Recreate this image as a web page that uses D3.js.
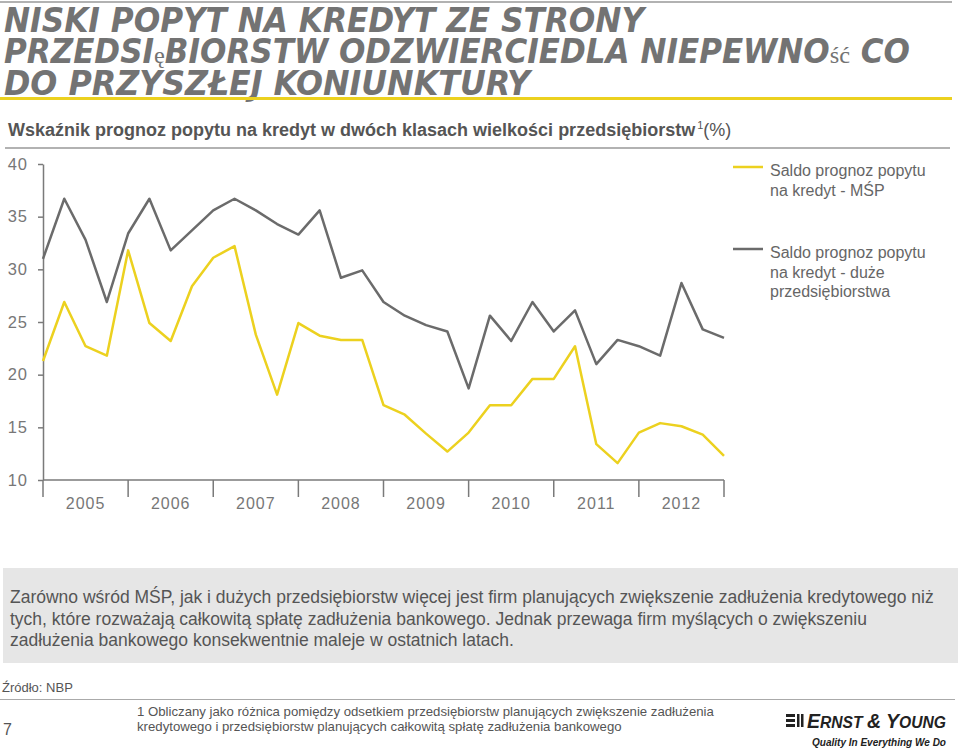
<!DOCTYPE html>
<html>
<head>
<meta charset="utf-8">
<script src="https://cdn.jsdelivr.net/npm/d3@7"></script>
<style>
  body { margin: 0; background: #fff; }
  svg { display: block; font-family: "Liberation Sans", Arial, sans-serif; }
</style>
</head>
<body>
<div id="chart"></div>
<script>
// quarterly readings, 2005 Q1 .. 2013 Q1
const years = ["2005", "2006", "2007", "2008", "2009", "2010", "2011", "2012"];
const msp = [21.3, 26.9, 22.7, 21.8, 31.8, 24.9, 23.2, 28.4, 31.1, 32.2, 23.8, 18.1,
  24.9, 23.7, 23.3, 23.3, 17.1, 16.2, 14.4, 12.7, 14.5, 17.1, 17.1, 19.6,
  19.6, 22.7, 13.4, 11.6, 14.5, 15.4, 15.1, 14.3, 12.3];
const duze = [31.0, 36.7, 32.8, 26.9, 33.4, 36.7, 31.8, 33.7, 35.6, 36.7, 35.6, 34.3,
  33.3, 35.6, 29.2, 29.9, 26.9, 25.6, 24.7, 24.1, 18.7, 25.6, 23.2, 26.9,
  24.1, 26.1, 21.0, 23.3, 22.7, 21.8, 28.7, 24.3, 23.5];
const yTicks = [10, 15, 20, 25, 30, 35, 40];
const legendItems = [
  { lines: ["Saldo prognoz popytu", "na kredyt - MŚP"], color: "#ecd11f" },
  { lines: ["Saldo prognoz popytu", "na kredyt - duże", "przedsiębiorstwa"], color: "#6b6b6b" }
];
const bodyLines = [
  "Zarówno wśród MŚP, jak i dużych przedsiębiorstw więcej jest firm planujących zwiększenie zadłużenia kredytowego niż",
  "tych, które rozważają całkowitą spłatę zadłużenia bankowego. Jednak przewaga firm myślących o zwiększeniu",
  "zadłużenia bankowego konsekwentnie maleje w ostatnich latach."
];
const footLines = [
  "1 Obliczany jako różnica pomiędzy odsetkiem przedsiębiorstw planujących zwiększenie zadłużenia",
  "kredytowego i przedsiębiorstw planujących całkowitą spłatę zadłużenia bankowego"
];

const W = 960, H = 755;
const yellow = "#ecd11f", dark = "#6b6b6b", axisCol = "#7a7a7a";

const svg = d3.select("#chart").append("svg")
  .attr("width", W)
  .attr("height", H);

// header
svg.append("line").attr("x1", 0).attr("x2", 952).attr("y1", 2).attr("y2", 2)
  .attr("stroke", "#999").attr("stroke-width", 1.5);

const titleFont = "'Liberation Sans Narrow', 'DejaVu Sans Condensed', sans-serif";
const title = svg.append("g")
  .attr("fill", "#737373")
  .attr("font-family", titleFont)
  .attr("font-weight", "bold")
  .attr("font-style", "italic")
  .attr("font-size", 34);

title.append("text").attr("x", 4).attr("y", 32)
  .attr("textLength", 640).attr("lengthAdjust", "spacingAndGlyphs")
  .text("NISKI POPYT NA KREDYT ZE STRONY");

const t2 = title.append("text").attr("x", 4).attr("y", 63)
  .attr("textLength", 906).attr("lengthAdjust", "spacingAndGlyphs");
t2.append("tspan").text("PRZEDSI");
t2.append("tspan").attr("font-family", "'Liberation Serif', serif").attr("font-style", "normal")
  .attr("font-weight", "normal").attr("font-size", 24).text("ę");
t2.append("tspan").text("BIORSTW ODZWIERCIEDLA NIEPEWNO");
t2.append("tspan").attr("font-family", "'Liberation Serif', serif").attr("font-style", "normal")
  .attr("font-weight", "normal").attr("font-size", 24).text("ść");
t2.append("tspan").text(" CO");

title.append("text").attr("x", 4).attr("y", 95)
  .attr("textLength", 526).attr("lengthAdjust", "spacingAndGlyphs")
  .text("DO PRZYSZŁEJ KONIUNKTURY");

svg.append("line").attr("x1", 0).attr("x2", 952).attr("y1", 98.5).attr("y2", 98.5)
  .attr("stroke", yellow).attr("stroke-width", 3);

const sub = svg.append("text").attr("x", 8).attr("y", 136)
  .attr("fill", "#555").attr("font-size", 18);
sub.append("tspan").attr("font-weight", "bold")
  .text("Wskaźnik prognoz popytu na kredyt w dwóch klasach wielkości przedsiębiorstw");
sub.append("tspan").attr("font-size", 11).attr("dy", -7).attr("dx", 2).text("1");
sub.append("tspan").attr("dy", 7).text("(%)");

svg.append("line").attr("x1", 5).attr("x2", 950).attr("y1", 148).attr("y2", 148)
  .attr("stroke", "#999").attr("stroke-width", 1.5);

// chart
const x = d3.scaleLinear().domain([0, msp.length - 1]).range([43, 724]);
const y = d3.scaleLinear().domain([10, 40]).range([480, 164]);

const yAxis = svg.append("g")
  .attr("transform", "translate(43,0)")
  .call(d3.axisLeft(y).tickValues(yTicks).tickSize(5).tickSizeOuter(0).tickPadding(10));
yAxis.select(".domain").attr("stroke", axisCol).attr("stroke-width", 1.5);
yAxis.selectAll(".tick line").attr("stroke", axisCol).attr("stroke-width", 1.5);
yAxis.selectAll(".tick text")
  .attr("fill", "#777").attr("font-size", 16.5).attr("letter-spacing", 1)
  .attr("font-family", "'Liberation Sans', Arial, sans-serif");

// x axis: year separators with centred labels
const bounds = d3.range(0, msp.length, 4);
const xAxis = svg.append("g");
xAxis.append("line")
  .attr("x1", x(0)).attr("x2", x(msp.length - 1))
  .attr("y1", y(10)).attr("y2", y(10))
  .attr("stroke", axisCol).attr("stroke-width", 1.5);
xAxis.selectAll(".sep").data(bounds).enter().append("line")
  .attr("x1", d => x(d)).attr("x2", d => x(d))
  .attr("y1", y(10)).attr("y2", y(10) + 17)
  .attr("stroke", axisCol).attr("stroke-width", 1.5);
xAxis.selectAll(".yr").data(years).enter().append("text")
  .attr("x", (d, i) => x(i * 4 + 2))
  .attr("y", 509)
  .attr("text-anchor", "middle")
  .attr("fill", "#777").attr("font-size", 16).attr("letter-spacing", 1)
  .text(d => d);

const line = d3.line().x((d, i) => x(i)).y(d => y(d));

svg.append("path").datum(duze)
  .attr("d", line).attr("fill", "none")
  .attr("stroke", dark).attr("stroke-width", 2.5).attr("stroke-linejoin", "round");
svg.append("path").datum(msp)
  .attr("d", line).attr("fill", "none")
  .attr("stroke", yellow).attr("stroke-width", 2.5).attr("stroke-linejoin", "round");

// legend
const legendY = [167, 249];
legendItems.forEach((item, k) => {
  const g = svg.append("g").attr("transform", `translate(733,${legendY[k]})`);
  g.append("line").attr("x1", 0).attr("x2", 30).attr("y1", 0).attr("y2", 0)
    .attr("stroke", item.color).attr("stroke-width", 2.5);
  g.selectAll("text").data(item.lines).enter().append("text")
    .attr("x", 37).attr("y", (d, i) => 9 + i * 19.5)
    .attr("fill", "#666").attr("font-size", 16)
    .text(d => d);
});

// comment box
svg.append("rect").attr("x", 3).attr("y", 568).attr("width", 955).attr("height", 95)
  .attr("fill", "#e6e6e6");
svg.selectAll(".body").data(bodyLines).enter().append("text")
  .attr("x", 10).attr("y", (d, i) => 603 + i * 21.5)
  .attr("fill", "#555").attr("font-size", 17.5)
  .text(d => d);

// footer
svg.append("text").attr("x", 2).attr("y", 692)
  .attr("fill", "#555").attr("font-size", 13).text("Źródło: NBP");
svg.append("line").attr("x1", 0).attr("x2", 955).attr("y1", 699.5).attr("y2", 699.5)
  .attr("stroke", "#aaa").attr("stroke-width", 1);
svg.append("text").attr("x", 3).attr("y", 735)
  .attr("fill", "#555").attr("font-size", 16).text("7");
svg.selectAll(".foot").data(footLines).enter().append("text")
  .attr("x", 137).attr("y", (d, i) => 716 + i * 15)
  .attr("fill", "#555").attr("font-size", 13.2)
  .text(d => d);

// logo
const logo = svg.append("g").attr("fill", "#222");
[0, 5, 10].forEach(dy => {
  logo.append("rect").attr("x", 786).attr("y", 714 + dy).attr("width", 9).attr("height", 3);
});
logo.append("rect").attr("x", 797).attr("y", 714).attr("width", 2.5).attr("height", 13);
logo.append("rect").attr("x", 801).attr("y", 714).attr("width", 2.5).attr("height", 13);
const ey = logo.append("text").attr("x", 807).attr("y", 728)
  .attr("font-family", "'Liberation Sans Narrow', sans-serif").attr("font-style", "italic")
  .attr("font-weight", "bold").attr("font-size", 20)
  .attr("textLength", 139).attr("lengthAdjust", "spacingAndGlyphs");
ey.append("tspan").text("E");
ey.append("tspan").attr("font-size", 16).text("RNST ");
ey.append("tspan").text("& Y");
ey.append("tspan").attr("font-size", 16).text("OUNG");
logo.append("text").attr("x", 812).attr("y", 746)
  .attr("font-family", "'Liberation Sans Narrow', sans-serif").attr("font-style", "italic")
  .attr("font-weight", "bold").attr("font-size", 11.5)
  .attr("textLength", 134).attr("lengthAdjust", "spacingAndGlyphs")
  .text("Quality In Everything We Do");
</script>
</body>
</html>
